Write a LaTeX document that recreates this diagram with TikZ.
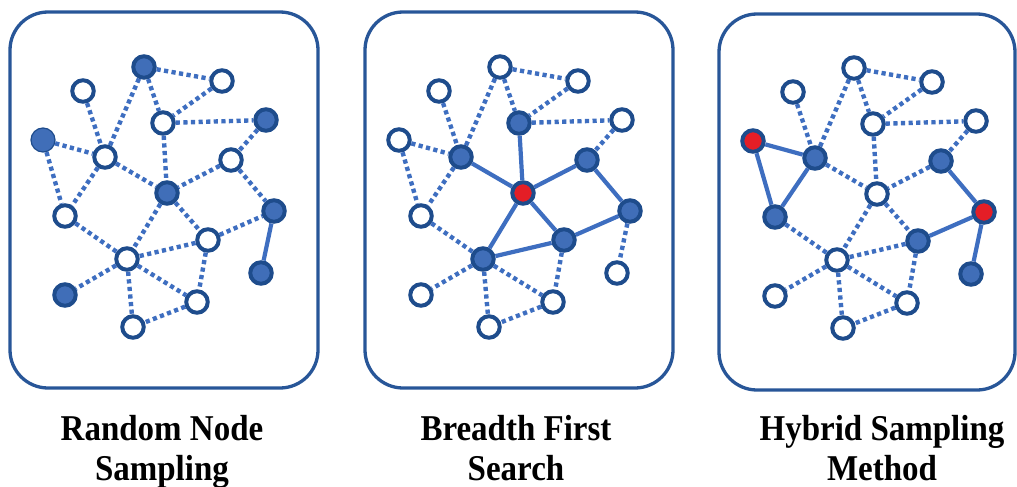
\documentclass[tikz,border=0pt]{standalone}
\usepackage{fontspec}
\usepackage{graphicx}
\setmainfont{Liberation Serif}
\definecolor{boxblue}{RGB}{40,86,152}
\definecolor{ringblue}{RGB}{30,76,140}
\definecolor{fillblue}{RGB}{64,110,184}
\definecolor{edgeblue}{RGB}{62,110,192}
\definecolor{hotred}{RGB}{228,30,38}
\newcommand\tallcap[1]{\scalebox{1}[1.1]{#1}}
\tikzset{
  panel/.style={draw=boxblue, line width=3.3pt, rounded corners=38pt},
  nd/.style={circle, inner sep=0pt, minimum size=21.5pt, line width=4pt, draw=ringblue},
  open/.style={nd, fill=white},
  full/.style={nd, fill=fillblue},
  hot/.style={nd, fill=hotred},
  soft/.style={nd, fill=fillblue, line width=1.2pt, minimum size=24pt},
  dotedge/.style={draw=edgeblue, line width=4.4pt, dash pattern=on 4.2pt off 3.4pt},
  solidedge/.style={draw=edgeblue, line width=4.2pt},
  caption/.style={font=\bfseries\fontsize{33}{40}\selectfont, inner sep=0pt, anchor=base}
}
\begin{document}
\begin{tikzpicture}[x=1pt, y=-1pt]
\useasboundingbox (0,0) rectangle (1017,487);

% frames
\draw[panel] (10,12) rectangle (318,388);
\draw[panel] (365,12) rectangle (673,388);
\draw[panel] (719,14) rectangle (1015,390);

% ---------- panel 1: random node sampling ----------
\foreach \n/\x/\y/\s in {A/144/67/full, B/222/81/open, C/83/91/open, D/163/123/open,
  E/266/120/full, F/43/140/soft, G/105/157/open, H/231/160/open, I/167/193/full,
  J/65/216/open, K/274/211/full, L/208/240/open, M/127/259/open, N/261/273/full,
  O/65/295/full, P/197/302/open, Q/133/327/open}
  \node[\s] (a\n) at (\x,\y) {};
\foreach \u/\v/\s in {A/B/dotedge, A/D/dotedge, A/G/dotedge, B/D/dotedge, D/E/dotedge,
  D/I/dotedge, C/G/dotedge, F/G/dotedge, F/J/dotedge, G/J/dotedge, G/I/dotedge,
  E/H/dotedge, H/I/dotedge, H/K/dotedge, I/L/dotedge, I/M/dotedge, J/M/dotedge,
  L/M/dotedge, L/K/dotedge, M/O/dotedge, M/P/dotedge, M/Q/dotedge, L/P/dotedge,
  P/Q/dotedge, K/N/solidedge}
  \draw[\s] (a\u) -- (a\v);

% ---------- panel 2: breadth first search ----------
\begin{scope}[xshift=356pt]
\foreach \n/\x/\y/\s in {A/144/67/open, B/222/81/open, C/83/91/open, D/163/123/full,
  E/266/120/open, F/43/140/open, G/105/157/full, H/231/160/full, I/167/193/hot,
  J/65/216/open, K/274/211/full, L/208/240/full, M/127/259/full, N/261/273/open,
  O/65/295/open, P/197/302/open, Q/133/327/open}
  \node[\s] (b\n) at (\x,\y) {};
\end{scope}
\foreach \u/\v/\s in {A/B/dotedge, A/D/dotedge, A/G/dotedge, B/D/dotedge, D/E/dotedge,
  D/I/solidedge, C/G/dotedge, F/G/dotedge, F/J/dotedge, G/J/dotedge, G/I/solidedge,
  E/H/dotedge, H/I/solidedge, H/K/solidedge, I/L/solidedge, I/M/solidedge, J/M/dotedge,
  L/M/solidedge, L/K/solidedge, M/O/dotedge, M/P/dotedge, M/Q/dotedge, L/P/dotedge,
  P/Q/dotedge, K/N/dotedge}
  \draw[\s] (b\u) -- (b\v);

% ---------- panel 3: hybrid sampling method ----------
\begin{scope}[xshift=710pt, yshift=-1pt]
\foreach \n/\x/\y/\s in {A/144/67/open, B/222/81/open, C/83/91/open, D/163/123/open,
  E/266/120/open, F/43/140/hot, G/105/157/full, H/231/160/full, I/167/193/open,
  J/65/216/full, K/274/211/hot, L/208/240/full, M/127/259/open, N/261/273/full,
  O/65/295/open, P/197/302/open, Q/133/327/open}
  \node[\s] (c\n) at (\x,\y) {};
\end{scope}
\foreach \u/\v/\s in {A/B/dotedge, A/D/dotedge, A/G/dotedge, B/D/dotedge, D/E/dotedge,
  D/I/dotedge, C/G/dotedge, F/G/solidedge, F/J/solidedge, G/J/solidedge, G/I/dotedge,
  E/H/dotedge, H/I/dotedge, H/K/solidedge, I/L/dotedge, I/M/dotedge, J/M/dotedge,
  L/M/dotedge, L/K/solidedge, M/O/dotedge, M/P/dotedge, M/Q/dotedge, L/P/dotedge,
  P/Q/dotedge, K/N/solidedge}
  \draw[\s] (c\u) -- (c\v);

% captions
\node[caption] (t1a) at (162,440) {\tallcap{Random Node}};
\node[caption] (t1b) at (162,480) {\tallcap{Sampling}};
\node[caption] (t2a) at (516,440) {\tallcap{Breadth First}};
\node[caption] (t2b) at (516,480) {\tallcap{Search}};
\node[caption] (t3a) at (882,440) {\tallcap{Hybrid Sampling}};
\node[caption] (t3b) at (882,480) {\tallcap{Method}};
\end{tikzpicture}
\end{document}
